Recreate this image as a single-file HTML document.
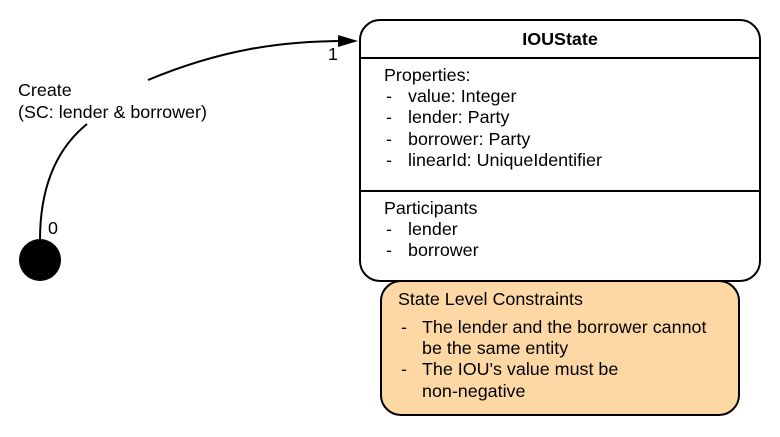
<!DOCTYPE html>
<html><head><style>
body{margin:0;width:780px;height:432px;background:#fff;overflow:hidden}
svg text{font-family:"Liberation Sans",sans-serif;font-size:17.9px;fill:#000}
</style></head><body>
<svg width="780" height="432" viewBox="0 0 780 432">
<path d="M40,240 C40,190 55,150 87,124" fill="none" stroke="#000" stroke-width="2"/>
<path d="M148,80 C220,50 280,41 345,41" fill="none" stroke="#000" stroke-width="2"/>
<path d="M338,35 L358,41 L338,47 z" fill="#000"/>
<circle cx="40" cy="260" r="21" fill="#000"/>
<text x="18" y="96">Create</text>
<text x="18" y="118">(SC: lender &amp; borrower)</text>
<text x="48" y="234">0</text>
<text x="328" y="60">1</text>
<rect x="360" y="20" width="400" height="261" rx="20" fill="#fff" stroke="#000" stroke-width="2"/>
<line x1="360" y1="58" x2="760" y2="58" stroke="#000" stroke-width="2"/>
<line x1="360" y1="191" x2="760" y2="191" stroke="#000" stroke-width="2"/>
<text x="560" y="45" text-anchor="middle" style="font-weight:bold">IOUState</text>
<text x="384" y="81">Properties:</text>
<text x="386" y="102">-</text><text x="408" y="102">value: Integer</text>
<text x="386" y="123">-</text><text x="408" y="123">lender: Party</text>
<text x="386" y="145">-</text><text x="408" y="145">borrower: Party</text>
<text x="386" y="166">-</text><text x="408" y="166">linearId: UniqueIdentifier</text>
<text x="384" y="214">Participants</text>
<text x="386" y="235">-</text><text x="408" y="235">lender</text>
<text x="386" y="256">-</text><text x="408" y="256">borrower</text>
<rect x="381" y="281" width="358" height="134" rx="20" fill="#fdd8a5" stroke="#000" stroke-width="2"/>
<text x="398" y="305">State Level Constraints</text>
<text x="401" y="333">-</text><text x="422" y="333">The lender and the borrower cannot</text>
<text x="422" y="354">be the same entity</text>
<text x="401" y="375">-</text><text x="422" y="375">The IOU's value must be</text>
<text x="422" y="397">non-negative</text>
</svg>
</body></html>
